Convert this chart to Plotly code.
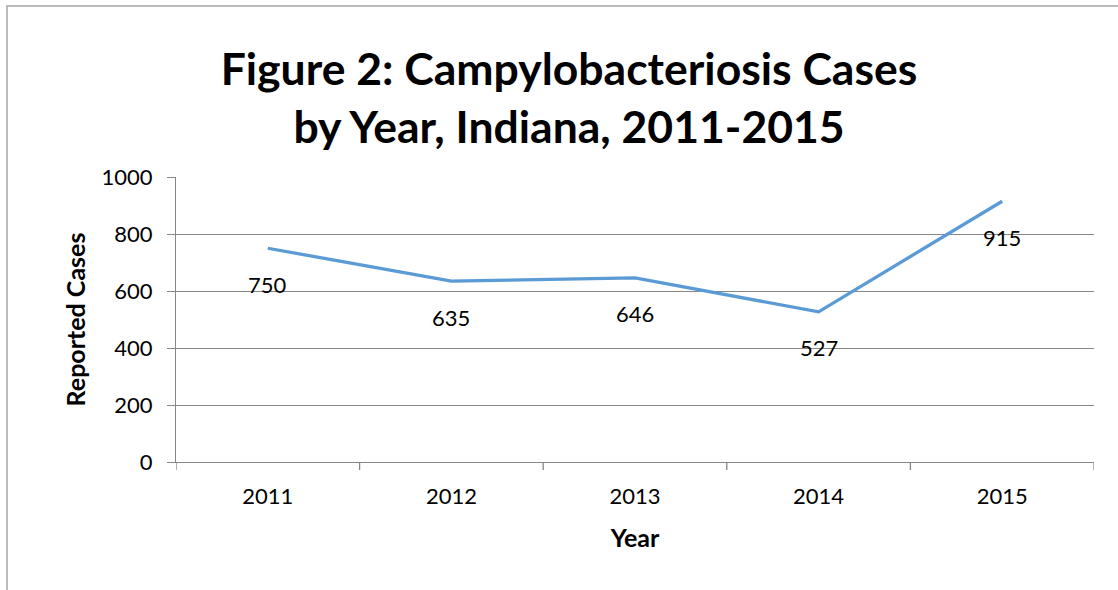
import plotly.graph_objects as go

years = ["2011", "2012", "2013", "2014", "2015"]
cases = [750, 635, 646, 527, 915]
title_lines = ["Figure 2: Campylobacteriosis Cases", "by Year, Indiana, 2011-2015"]

FONT = "Lato"
GRID = "#878787"

fig = go.Figure()
fig.add_trace(go.Scatter(
    x=list(range(len(years))), y=cases, mode="lines",
    line=dict(color="#5B9BD5", width=3.3),
    hoverinfo="y", showlegend=False,
))

for i, v in enumerate(cases):
    fig.add_annotation(x=i, y=v, text=str(v), showarrow=False,
                       yshift=-36, font=dict(family=FONT, size=22, color="#000"))

W, H = 1118, 590
L, R, T, B = 176, 24, 177, 128
pw, ph = W - L - R, H - T - B
def px(x):
    return (x - L) / pw
def py(y):
    return (H - B - y) / ph

# outer frame
fig.add_shape(type="rect", xref="paper", yref="paper",
              x0=px(7), x1=px(1130), y0=py(600), y1=py(6),
              line=dict(color="#A6A6A6", width=1.5), fillcolor="rgba(0,0,0,0)", layer="below")

fig.update_layout(
    width=W, height=H,
    margin=dict(l=L, r=R, t=T, b=B),
    paper_bgcolor="white", plot_bgcolor="white",
    font=dict(family=FONT, color="#000"),
    title=dict(text="<b>" + "<br>".join(title_lines) + "</b>",
               x=569 / W, xanchor="center", xref="container",
               y=1 - 85 / H, yanchor="middle", yref="container",
               font=dict(family=FONT, size=44.5, color="#000")),
    xaxis=dict(
        tickmode="array", tickvals=list(range(len(years))), ticktext=years,
        range=[-0.5, len(years) - 0.5],
        ticks="", showline=True, linecolor=GRID, linewidth=1.3,
        showgrid=False, zeroline=False, tickfont=dict(family=FONT, size=22),
        title=dict(text="<b>Year</b>", font=dict(family=FONT, size=25), standoff=21),
        ticklabelstandoff=14,
    ),
    yaxis=dict(
        range=[0, 1000], dtick=200, tick0=0,
        ticks="outside", ticklen=8, tickcolor=GRID, tickwidth=1.3,
        showline=True, linecolor=GRID, linewidth=1.3,
        showgrid=True, gridcolor=GRID, gridwidth=1.3, zeroline=False,
        tickfont=dict(family=FONT, size=22),
        title=dict(text="<b>Reported Cases</b>", font=dict(family=FONT, size=25), standoff=8),
        ticklabelstandoff=10,
    ),
)

# category boundary ticks on the x axis
for b in [k - 0.5 for k in range(len(years) + 1)]:
    fig.add_shape(type="line", xref="x", yref="paper", x0=b, x1=b, y0=0, y1=-8 / ph,
                  line=dict(color=GRID, width=1.3))

fig.write_html("out.html", config={"displayModeBar": False},
               post_script="document.body.style.margin='0';")
